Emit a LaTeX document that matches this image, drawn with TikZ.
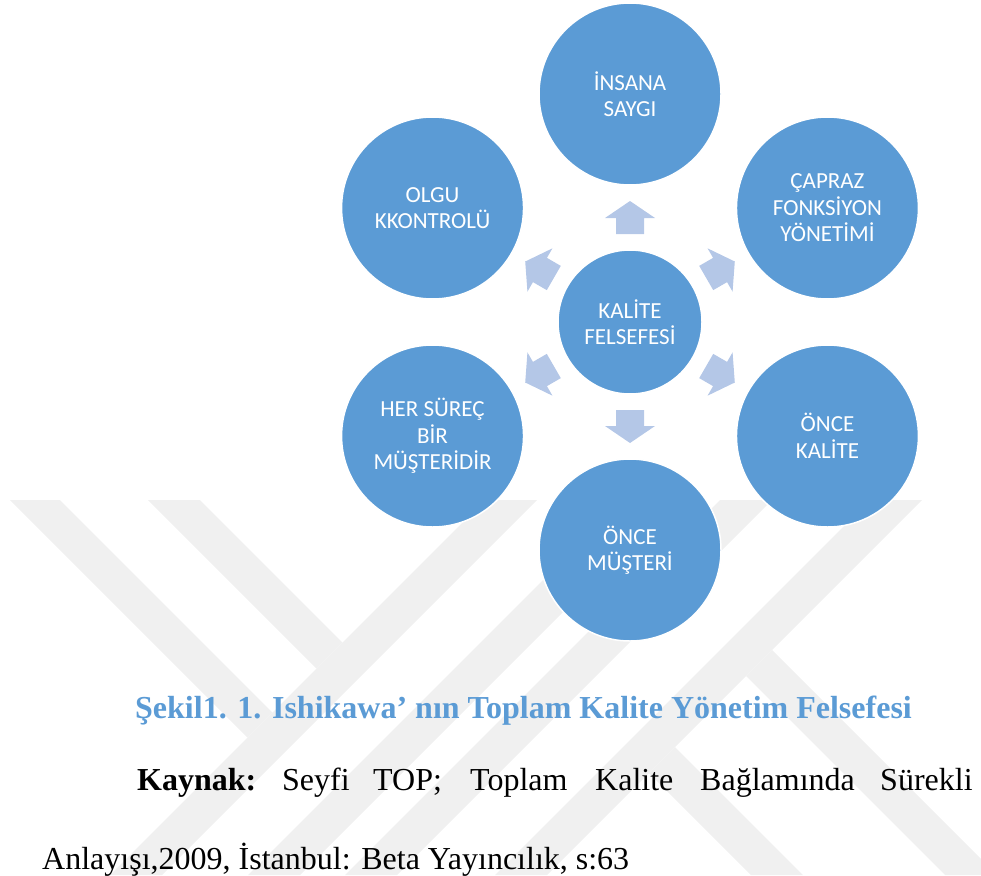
\documentclass[tikz,border=0pt]{standalone}
\usepackage{fontspec}
\setmainfont{Liberation Serif}
\newfontfamily\circfont{Carlito}
\usetikzlibrary{calc}
\definecolor{discblue}{HTML}{5B9BD5}
\definecolor{arrowblue}{HTML}{B4C7E7}
\definecolor{markgray}{HTML}{F0F0F0}
\definecolor{captionblue}{HTML}{5B9BD5}

\begin{document}
\begin{tikzpicture}[x=1pt,y=-1pt,
  disc/.style={circle, fill=discblue, draw=white, line width=1.5pt,
    minimum size=182pt, inner sep=0pt, align=center, text=white,
    font=\circfont\fontsize{23}{26.5}\selectfont},
  hub/.style={disc, minimum size=144pt},
  blockarrow/.style={fill=arrowblue},
  band/.style={fill=markgray},
  bodytext/.style={anchor=base west, inner sep=0pt, font=\fontsize{32}{38}\selectfont},
  captext/.style={anchor=base west, inner sep=0pt, text=captionblue,
    font=\bfseries\fontsize{32}{38}\selectfont},
]
\useasboundingbox (0,0) rectangle (981,875);

% background watermark bands
\fill[band] (10,500) -- (60,500) -- (272.5,712.5) -- (247.5,737.5) -- cycle;
\fill[band] (148,500) -- (200,500) -- (342.5,642.5) -- (316.5,668.5) -- cycle;
\fill[band] (485,500) -- (537,500) -- (162,875) -- (110,875) -- cycle;
\fill[band] (623,500) -- (675,500) -- (300,875) -- (248,875) -- cycle;
\fill[band] (720,500) -- (772,500) -- (397,875) -- (345,875) -- cycle;
\fill[band] (870,500) -- (922,500) -- (547,875) -- (495,875) -- cycle;
\fill[band] (772,650) -- (981,859) -- (981,875) -- (945,875) -- (746,676) -- cycle;
\fill[band] (675,747) -- (803,875) -- (751,875) -- (649,773) -- cycle;

% hub and surrounding discs
\node[hub] (kf) at (630,322) {KALİTE\\FELSEFESİ};
\node[disc] (is) at ($(kf)+(-90:228)$) {İNSANA\\SAYGI};
\node[disc] (cf) at ($(kf)+(-30:228)$) {ÇAPRAZ\\FONKSİYON\\YÖNETİMİ};
\node[disc] (ok) at ($(kf)+(30:228)$) {ÖNCE\\KALİTE};
\node[disc] (om) at ($(kf)+(90:228)$) {ÖNCE\\MÜŞTERİ};
\node[disc] (hs) at ($(kf)+(150:228)$) {HER SÜREÇ\\BİR\\MÜŞTERİDİR};
\node[disc] (ol) at ($(kf)+(-150:228)$) {OLGU\\KKONTROLÜ};

% block arrows pointing outward from the hub
\foreach \ang in {90,30,-30,-90,-150,150}{
  \begin{scope}[shift={(kf)}, rotate=\ang]
    \fill[blockarrow] (88,-14) -- (104,-14) -- (104,-25) -- (121,0)
      -- (104,25) -- (104,14) -- (88,14) -- cycle;
  \end{scope}
}

% caption and source
\node[captext] (cap) at (135,718) {Şekil1. 1. Ishikawa’ nın Toplam Kalite Yönetim Felsefesi};
\node[bodytext] (w1) at (137,790) {\bfseries Kaynak:};
\node[bodytext] (w2) at (282,790) {Seyfi};
\node[bodytext] (w3) at (373,790) {TOP;};
\node[bodytext] (w4) at (470,790) {Toplam};
\node[bodytext] (w5) at (595,790) {Kalite};
\node[bodytext] (w6) at (700,790) {Bağlamında};
\node[bodytext] (w7) at (880,790) {Sürekli};
\node[bodytext] (l2) at (42,869) {Anlayışı,2009, İstanbul: Beta Yayıncılık, s:63};
\end{tikzpicture}
\end{document}
